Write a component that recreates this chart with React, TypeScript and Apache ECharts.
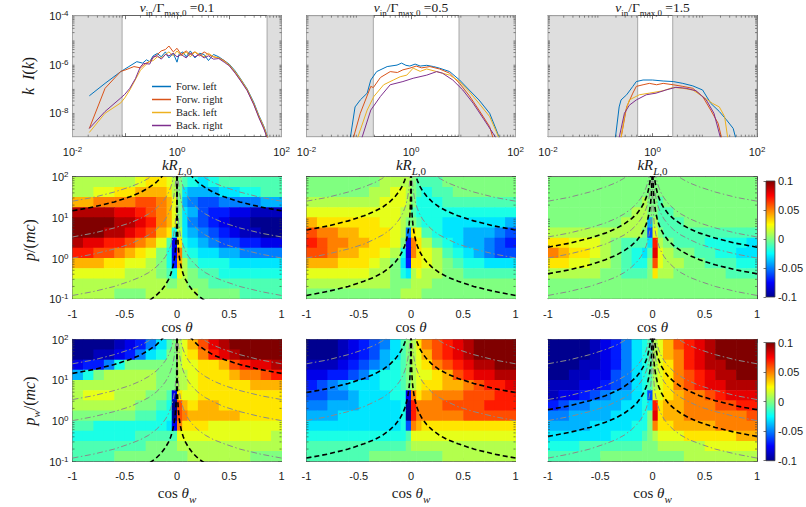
import { useEffect, useRef } from 'react';
import * as echarts from 'echarts';

const NAMES = ['Forw. left', 'Forw. right', 'Back. left', 'Back. right'];
const COLORS = ['#0072BD', '#D95319', '#EDB120', '#7E2F8E'];
const NU = ['0.1', '0.5', '1.5'];

// ---- top row: k I(k) spectra, [k R_L0, k I(k)] ----
const spec01FL = [[0.021,4.9e-8],[0.042,1.6e-7],[0.084,4.9e-7],[0.12,7.9e-7],[0.17,1.26e-6],[0.22,1.1e-6],[0.26,1.5e-6],[0.3,1.26e-6],[0.35,2.2e-6],[0.42,2.75e-6],[0.5,2.0e-6],[0.6,3.2e-6],[0.7,1.8e-6],[0.85,2.8e-6],[1.0,1.2e-6],[1.1,2.6e-6],[1.3,3.2e-6],[1.5,2.0e-6],[1.8,3.5e-6],[2.2,1.8e-6],[2.7,2.8e-6],[3.3,2.5e-6],[4,1.4e-6],[5,2.5e-6],[6.3,2.0e-6],[8,1.4e-6],[10,1.0e-6],[13,5.2e-7],[16.6,2.4e-7],[22,9.5e-8],[29.5,2.6e-8],[37,7.5e-9],[46,2.7e-9],[56,8e-10]];
const spec01FR = [[0.021,2.2e-9],[0.042,1e-7],[0.084,5e-7],[0.1,5.6e-7],[0.15,7.9e-7],[0.2,7e-7],[0.25,1.07e-6],[0.3,1.26e-6],[0.35,1.8e-6],[0.42,2.5e-6],[0.5,3.5e-6],[0.6,4e-6],[0.7,5.6e-6],[0.85,3.2e-6],[1.0,4.5e-6],[1.2,2.5e-6],[1.5,3.5e-6],[1.8,2.5e-6],[2.2,3.2e-6],[2.7,2.2e-6],[3.3,3.2e-6],[4,2.5e-6],[5,2e-6],[6.3,1.8e-6],[8,1.4e-6],[10,9e-7],[13,4.5e-7],[16.6,2.1e-7],[22,8.5e-8],[29.5,2.2e-8],[37,6.5e-9],[46,2.3e-9],[56,7e-10]];
const spec01BL = [[0.021,1.5e-9],[0.042,9.3e-9],[0.084,2.5e-8],[0.1,4e-8],[0.125,8.5e-8],[0.2,5.6e-7],[0.29,1.26e-6],[0.35,1.4e-6],[0.42,2e-6],[0.5,1.8e-6],[0.6,2.5e-6],[0.7,3.2e-6],[0.85,2.2e-6],[1.0,3.5e-6],[1.2,2.2e-6],[1.5,3.2e-6],[1.8,2e-6],[2.2,3.2e-6],[2.7,2.5e-6],[3.3,2e-6],[4,2.8e-6],[5,2e-6],[6.3,1.8e-6],[8,1.3e-6],[10,9.5e-7],[13,4.8e-7],[16.6,2.3e-7],[22,9e-8],[29.5,2.4e-8],[37,7e-9],[46,2.5e-9],[56,7.5e-10]];
const spec01BR = [[0.021,2.2e-9],[0.042,1.1e-8],[0.084,4e-8],[0.1,5.6e-8],[0.125,1e-7],[0.16,2.5e-7],[0.2,7.9e-7],[0.23,1.07e-6],[0.3,1e-6],[0.35,2e-6],[0.42,2.2e-6],[0.5,1.6e-6],[0.6,2.5e-6],[0.7,2.2e-6],[0.85,2.8e-6],[1.0,2e-6],[1.2,2.5e-6],[1.5,1.8e-6],[1.8,2.8e-6],[2.2,2e-6],[2.7,2.5e-6],[3.3,1.8e-6],[4,2.2e-6],[5,1.6e-6],[6.3,1.7e-6],[8,1.2e-6],[10,8.5e-7],[13,4.2e-7],[16.6,2e-7],[22,8e-8],[29.5,2.1e-8],[37,6e-9],[46,2.1e-9],[56,6.5e-10]];

const spec05FL = [[0.069,9e-10],[0.085,1.7e-8],[0.107,3.3e-8],[0.145,6.3e-8],[0.17,2.2e-7],[0.22,4.9e-7],[0.35,7.9e-7],[0.54,9.1e-7],[0.66,1.1e-6],[0.8,8.9e-7],[0.95,8.3e-7],[1.2,1e-6],[1.5,8.3e-7],[2,8.9e-7],[2.7,7.9e-7],[3.5,6.8e-7],[5.5,4.9e-7],[8.5,2.2e-7],[13,8.5e-8],[20,3.3e-8],[32,9.3e-9],[43,1.9e-9],[50,8e-10]];
const spec05FR = [[0.079,9e-10],[0.107,9.3e-9],[0.17,1.2e-7],[0.19,1.07e-7],[0.26,2.8e-7],[0.4,4.9e-7],[0.55,4.5e-7],[0.7,5.8e-7],[0.95,6.8e-7],[1.26,8.3e-7],[1.6,7e-7],[2.3,7.9e-7],[3.5,6.3e-7],[5.5,4.2e-7],[8.5,1.6e-7],[13,5e-8],[20,1.26e-8],[32,2.6e-9],[37,9e-10]];
const spec05BL = [[0.095,9e-10],[0.145,1.26e-8],[0.195,4.6e-8],[0.3,1.4e-7],[0.46,2.2e-7],[0.62,3e-7],[0.83,3.5e-7],[1.1,6.8e-7],[1.5,5e-7],[2.0,6.3e-7],[3.1,4.9e-7],[5.5,3.5e-7],[8.5,1.9e-7],[13,7.2e-8],[20,2.4e-8],[32,6.8e-9],[43,1.6e-9],[48,9e-10]];
const spec05BR = [[0.115,9e-10],[0.17,1.26e-8],[0.26,4.6e-8],[0.4,1.4e-7],[0.7,1.9e-7],[1.1,2.6e-7],[2.0,3.5e-7],[3.1,4.9e-7],[4.0,4.2e-7],[6.3,2.2e-7],[9.8,8.5e-8],[15.5,2.4e-8],[24,5.8e-9],[37,1.4e-9],[42,9e-10]];

const spec15FL = [[0.195,9e-10],[0.23,1.7e-8],[0.25,3.3e-8],[0.32,5.4e-8],[0.42,1.2e-7],[0.49,1.9e-7],[0.66,2.2e-7],[1.0,2.2e-7],[1.6,2e-7],[2.5,1.9e-7],[3.8,1.6e-7],[5.9,1.26e-7],[9.1,8.5e-8],[13,2.4e-8],[19,1.1e-8],[26,5e-9],[35,2.2e-9],[39,9e-10]];
const spec15FR = [[0.25,9e-10],[0.32,1.7e-8],[0.42,6.3e-8],[0.49,1.2e-7],[0.66,1.4e-7],[0.87,1.6e-7],[1.2,1.4e-7],[1.6,1.6e-7],[2.5,1.4e-7],[3.8,1.2e-7],[5.9,1e-7],[9.1,4.6e-8],[13,1.26e-8],[18,3.6e-9],[21,9e-10]];
const spec15BL = [[0.25,9e-10],[0.3,1e-8],[0.36,3.3e-8],[0.56,5.4e-8],[0.87,6.3e-8],[1.6,7.9e-8],[2.5,1.1e-7],[3.8,1e-7],[5.9,8.5e-8],[9.1,4.6e-8],[14,2.4e-8],[19,1.7e-8],[24,6.8e-9],[27.5,9e-10]];
const spec15BR = [[0.23,9e-10],[0.29,9.3e-9],[0.36,2e-8],[0.49,3.3e-8],[0.76,5.4e-8],[1.17,6.3e-8],[1.8,8.5e-8],[2.8,1.1e-7],[4.4,1e-7],[6.8,7.9e-8],[10.7,3.3e-8],[15,9.3e-9],[20,9e-10]];

// grey (excluded) k ranges per column
const shadeLow = [0.089, 0.19, 0.52];
const shadeHigh = [53, 8.3, 2.44];

// ---- heat maps: cell edges and values (units of 0.01) ----
const muEdges = [-1,-0.9,-0.8,-0.7,-0.6,-0.5,-0.4,-0.3,-0.2,-0.1,-0.05,0,0.05,0.1,0.2,0.3,0.4,0.5,0.6,0.7,0.8,0.9,1];
const pEdges = [100,56.2,31.6,17.8,10,5.62,3.16,1.78,1,0.562,0.316,0.178,0.1];

const heatMid01 = [
  [1,1,1,1,1,1,2,3,3,2,1,0,-1,-2,-3,-2,-1,-1,-1,-1,-1,-1],
  [1,1,2,2,3,3,4,4,4,3,1,0,-3,-4,-4,-4,-3,-3,-2,-2,-1,-1],
  [4,4,5,5,5,5,6,6,5,4,2,0,-4,-5,-6,-6,-5,-5,-5,-5,-4,-4],
  [9,9,9,9,8,8,7,6,5,4,2,0,-3,-4,-6,-7,-7,-8,-8,-9,-9,-9],
  [10,10,10,10,9,9,8,7,5,4,2,0,-3,-5,-6,-7,-8,-9,-9,-10,-10,-10],
  [10,10,10,9,9,8,7,6,4,3,-2,1,-3,-4,-5,-6,-7,-8,-9,-9,-10,-10],
  [9,8,8,7,7,6,5,4,2,-1,-8,3,-2,-3,-4,-5,-6,-6,-7,-7,-8,-8],
  [7,7,6,6,5,4,3,2,0,-2,-8,5,-1,-2,-3,-3,-4,-4,-5,-5,-5,-5],
  [4,4,4,3,3,2,2,1,0,-2,-7,4,1,-1,-2,-2,-2,-3,-3,-3,-3,-3],
  [2,2,2,2,2,1,1,1,0,-1,-2,2,1,0,-1,-1,-2,-2,-2,-2,-2,-2],
  [1,1,1,1,1,1,1,1,1,0,0,1,1,0,0,-1,-1,-1,-1,-1,-1,-1],
  [1,1,1,1,0,0,0,1,1,1,1,1,1,1,0,0,0,0,-1,-1,-1,-1],
];
const heatMid05 = [
  [0,0,0,0,0,0,0,1,1,1,1,0,-1,-1,-1,0,0,0,0,0,0,0],
  [0,0,0,0,0,0,1,1,2,2,1,0,-1,-2,-1,-1,0,0,0,0,0,0],
  [1,1,1,1,1,1,1,2,2,2,1,0,-2,-2,-2,-1,-1,-1,-1,-1,-1,-1],
  [2,2,2,2,2,2,2,2,2,1,1,-1,-2,-2,-2,-2,-2,-2,-2,-2,-2,-2],
  [4,3,3,3,3,3,3,2,2,1,0,0,-1,-2,-2,-3,-3,-3,-3,-3,-3,-4],
  [6,5,5,4,4,3,3,3,2,1,-5,3,2,-1,-2,-3,-3,-4,-4,-4,-5,-6],
  [7,6,5,5,4,4,3,3,2,0,-8,5,3,1,-1,-2,-3,-4,-4,-5,-6,-7],
  [6,6,5,4,4,3,3,2,1,-2,-8,5,3,2,1,-1,-2,-3,-4,-5,-6,-6],
  [4,4,4,3,3,3,2,1,0,-3,-7,3,3,2,1,0,-1,-2,-2,-3,-3,-3],
  [2,2,2,2,2,2,1,1,0,-2,-3,1,2,1,1,0,0,-1,-1,-1,-1,-1],
  [1,1,1,1,1,1,1,1,0,0,0,1,1,1,0,0,0,0,0,0,0,0],
  [0,0,0,0,0,0,0,0,0,1,1,1,1,0,0,0,0,0,0,0,0,0],
];
const heatMid15 = [
  [0,0,0,0,0,0,0,0,0,0,0,0,0,0,0,0,0,0,0,0,0,0],
  [0,0,0,0,0,0,0,0,0,0,0,0,0,0,0,0,0,0,0,0,0,0],
  [0,0,0,0,0,0,0,0,0,1,0,0,-1,0,0,0,0,0,0,0,0,0],
  [0,0,0,0,0,0,0,0,1,1,0,0,-1,-1,0,0,0,0,0,0,0,0],
  [0,0,0,0,0,0,0,1,1,1,-4,1,-1,-1,-1,0,0,0,0,0,0,0],
  [1,1,1,1,1,1,1,1,1,0,-6,2,0,-1,-1,-1,-1,-1,-1,-1,-1,-1],
  [3,3,2,2,2,1,0,-1,-1,-1,-3,7,1,0,-1,-1,-1,-2,-2,-2,-2,-3],
  [5,4,3,3,2,1,0,-1,-2,-3,-1,8,2,1,0,0,-1,-1,-2,-2,-3,-3],
  [3,3,2,2,1,1,0,-1,-2,-2,0,6,2,1,1,0,0,-1,-1,-1,-2,-2],
  [1,1,1,1,1,0,0,-1,-1,-1,0,3,1,1,0,0,0,0,0,-1,-1,-1],
  [0,0,0,0,0,0,0,0,0,0,0,0,0,0,0,0,0,0,0,0,0,0],
  [0,0,0,0,0,0,0,0,0,0,0,0,0,0,0,0,0,0,0,0,0,0],
];
const heatBot01 = [
  [-10,-10,-10,-10,-9,-8,-7,-5,-3,-1,0,1,2,4,6,8,9,10,10,10,10,10],
  [-10,-10,-9,-9,-8,-7,-5,-3,-2,0,0,1,2,3,5,7,8,9,10,10,10,10],
  [-8,-7,-7,-5,-2,0,0,0,0,0,0,1,2,2,3,3,4,6,7,8,8,9],
  [-4,-2,0,1,1,1,1,1,0,0,0,1,1,2,3,3,3,4,5,5,6,7],
  [1,1,1,1,1,1,1,1,0,0,0,1,1,2,3,3,3,3,3,4,4,4],
  [1,2,2,2,1,1,1,0,0,-1,-8,3,2,2,3,3,3,3,3,3,3,3],
  [1,1,1,1,1,1,0,0,-1,-2,-10,6,4,3,4,4,3,3,3,3,3,3],
  [0,0,0,0,0,0,-1,-1,-2,-2,-10,6,5,4,4,4,4,4,3,3,3,3],
  [-1,-1,-2,-2,-2,-2,-2,-2,-2,-3,-8,5,3,3,3,2,2,2,2,2,2,2],
  [-2,-2,-2,-2,-2,-2,-1,-1,-1,-1,-1,2,2,2,2,2,2,2,2,2,2,1],
  [-1,-1,-1,-1,-1,-1,-1,0,0,0,0,1,1,1,1,1,1,1,1,1,1,1],
  [-1,-1,-1,-1,0,0,0,0,0,0,0,0,0,1,1,1,1,1,1,0,0,0],
];
const heatBot05 = [
  [-10,-10,-10,-9,-8,-7,-6,-5,-3,-1,0,1,3,5,6,7,8,9,10,10,10,10],
  [-10,-10,-10,-9,-8,-7,-6,-4,-3,-1,0,1,2,4,6,7,8,9,10,10,10,10],
  [-9,-9,-9,-8,-7,-6,-5,-4,-2,-1,0,1,2,3,5,6,7,8,9,9,10,10],
  [-8,-8,-7,-7,-6,-5,-3,-2,-2,-1,0,1,2,2,3,4,6,7,8,8,9,9],
  [-7,-6,-5,-4,-3,-3,-3,-2,-2,-1,0,1,2,3,3,4,4,5,6,7,7,8],
  [-6,-6,-5,-5,-4,-3,-3,-3,-2,-2,-8,5,3,4,5,5,5,6,6,6,7,7],
  [-5,-5,-4,-4,-4,-3,-3,-3,-3,-2,-10,7,5,5,5,6,6,6,6,7,7,7],
  [-4,-4,-4,-3,-3,-3,-3,-3,-3,-2,-10,7,5,5,5,5,5,6,6,6,6,6],
  [-3,-3,-3,-3,-3,-3,-3,-3,-3,-2,-6,5,4,3,3,3,3,3,3,3,3,3],
  [-2,-2,-2,-2,-2,-2,-2,-2,-2,-2,-1,2,2,2,2,2,2,2,2,2,2,2],
  [-1,-1,-1,-1,-1,-1,-1,-1,-1,-1,0,1,1,1,1,1,1,1,1,1,1,1],
  [-1,-1,-1,-1,-1,-1,0,0,0,0,0,0,0,0,0,1,1,1,1,1,1,1],
];
const heatBot15 = [
  [-10,-10,-10,-10,-9,-8,-7,-5,-3,-2,-1,1,2,4,6,7,8,9,10,10,10,10],
  [-10,-10,-10,-10,-9,-8,-7,-5,-3,-2,-1,1,2,4,5,7,8,9,10,10,10,10],
  [-10,-10,-10,-9,-9,-8,-7,-5,-3,-2,-1,1,2,3,5,7,8,9,9,10,10,10],
  [-10,-10,-9,-9,-8,-8,-6,-5,-3,-2,-1,1,2,3,5,6,7,8,9,9,10,10],
  [-9,-9,-9,-8,-8,-7,-6,-5,-3,-2,-1,1,2,3,5,6,7,8,8,9,9,9],
  [-9,-8,-8,-7,-6,-5,-4,-4,-3,-2,-6,2,2,3,4,5,5,6,7,8,8,8],
  [-7,-6,-5,-5,-4,-4,-4,-3,-3,-2,-3,7,3,4,4,5,5,5,6,6,7,7],
  [-5,-5,-4,-4,-4,-4,-3,-3,-3,-2,0,8,3,4,4,5,5,5,5,5,5,6],
  [-4,-4,-4,-4,-3,-3,-3,-3,-2,-2,0,5,3,3,4,4,4,4,5,5,5,5],
  [-3,-3,-3,-3,-3,-3,-2,-2,-2,-1,0,1,2,2,2,3,3,3,3,3,4,4],
  [-2,-2,-2,-1,-1,-1,-1,-1,-1,0,0,0,1,1,1,1,1,2,2,2,2,2],
  [-1,-1,-1,-1,-1,0,0,0,0,0,0,0,0,0,0,1,1,1,1,1,1,1],
];

// ---- resonance curves (cos θ < 0 branch; mirrored for cos θ > 0) ----
const curveP25 = [[-1,25],[-0.8,31],[-0.6,42],[-0.45,56],[-0.35,71],[-0.28,89],[-0.22,114]];
const curveP14 = [[-1,14.5],[-0.8,18],[-0.6,24],[-0.45,32],[-0.35,41],[-0.27,54],[-0.2,72],[-0.16,91],[-0.13,112]];
const curveP4_9 = [[-1,4.9],[-0.8,6.1],[-0.6,8.2],[-0.45,10.9],[-0.35,14],[-0.27,18],[-0.2,24.5],[-0.15,33],[-0.11,45],[-0.08,61],[-0.06,82],[-0.045,109]];
const curveP3_3 = [[-1,3.3],[-0.8,4.1],[-0.6,5.5],[-0.45,7.3],[-0.35,9.4],[-0.27,12.2],[-0.2,16.5],[-0.15,22],[-0.11,30],[-0.08,41],[-0.06,55],[-0.045,73],[-0.032,103]];
const curveP1_85 = [[-1,1.85],[-0.8,2.3],[-0.6,3.1],[-0.45,4.1],[-0.35,5.3],[-0.27,6.9],[-0.2,9.3],[-0.15,12.3],[-0.11,16.8],[-0.08,23],[-0.06,31],[-0.045,41],[-0.032,58],[-0.022,84],[-0.016,116]];
const curveP1 = [[-1,1],[-0.8,1.25],[-0.6,1.67],[-0.45,2.2],[-0.35,2.9],[-0.27,3.7],[-0.2,5],[-0.15,6.7],[-0.11,9.1],[-0.08,12.5],[-0.06,16.7],[-0.045,22],[-0.032,31],[-0.022,45],[-0.016,62],[-0.011,91],[-0.008,125]];
const curveP0_41 = [[-1,0.41],[-0.8,0.51],[-0.6,0.68],[-0.45,0.91],[-0.35,1.17],[-0.27,1.52],[-0.2,2.05],[-0.15,2.7],[-0.11,3.7],[-0.08,5.1],[-0.06,6.8],[-0.045,9.1],[-0.032,12.8],[-0.022,18.6],[-0.016,26],[-0.011,37],[-0.008,51],[-0.0055,75],[-0.0038,108]];
const curveP0_12 = [[-1,0.12],[-0.8,0.15],[-0.6,0.2],[-0.45,0.27],[-0.35,0.34],[-0.27,0.44],[-0.2,0.6],[-0.15,0.8],[-0.11,1.09],[-0.08,1.5],[-0.06,2],[-0.045,2.7],[-0.032,3.75],[-0.022,5.5],[-0.016,7.5],[-0.011,10.9],[-0.008,15],[-0.0055,22],[-0.0038,32],[-0.0026,46],[-0.0018,67],[-0.0011,109]];
const curveP0_024 = [[-0.26,0.092],[-0.2,0.12],[-0.15,0.16],[-0.11,0.22],[-0.08,0.3],[-0.06,0.4],[-0.045,0.53],[-0.032,0.75],[-0.022,1.09],[-0.016,1.5],[-0.011,2.2],[-0.008,3],[-0.0055,4.4],[-0.0038,6.3],[-0.0026,9.2],[-0.0018,13.3],[-0.0012,20],[-0.0008,30],[-0.0005,48],[-0.0003,80],[-0.0002,120]];

const SPECTRA = [
  [spec01FL, spec01FR, spec01BL, spec01BR],
  [spec05FL, spec05FR, spec05BL, spec05BR],
  [spec15FL, spec15FR, spec15BL, spec15BR],
];
const HEAT_MID = [heatMid01, heatMid05, heatMid15];
const HEAT_BOT = [heatBot01, heatBot05, heatBot15];
const GREY_CURVES = [
  [curveP25, curveP3_3, curveP1, curveP0_12],
  [curveP25, curveP1],
  [curveP25, curveP3_3, curveP1, curveP0_12],
];
const BLACK_CURVES = [
  [curveP14, curveP0_024],
  [curveP4_9, curveP0_12],
  [curveP1_85, curveP0_41],
];

// ---- styling ----
const SANS = "'Liberation Sans', Arial, Helvetica, sans-serif";
const SERIF = "'Liberation Serif', 'Times New Roman', serif";
const TXT = '#1a1a1a';
const AX = '#3a3a3a';
const JET = ['#00008F', '#0000FF', '#0080FF', '#00FFFF', '#80FF80', '#FFFF00', '#FF8000', '#FF0000', '#800000'];

const COL_LEFT = [72.5, 306.5, 548];
const COL_W = 209;
const ROW_TOP = [15.7, 176.7, 339.3];
const ROW_H = [121, 122, 122];

const tick = { show: true, inside: true, length: 3.5, lineStyle: { color: AX, width: 0.7 } };
const axisLine = { show: true, onZero: false, lineStyle: { color: AX, width: 0.8 } };
const expRich = {
  b: { fontFamily: SANS, fontSize: 11, color: TXT, lineHeight: 12, verticalAlign: 'bottom' },
  e: { fontFamily: SANS, fontSize: 8, color: TXT, lineHeight: 7, verticalAlign: 'top' },
};

// minor tick positions of a log axis: 2..9 times each decade
const MINOR_MULT = [2, 3, 4, 5, 6, 7, 8, 9];
function minorValues(e0: number, e1: number) {
  const out: number[] = [];
  for (let e = e0; e < e1; e++) MINOR_MULT.forEach((m) => out.push(m * Math.pow(10, e)));
  return out;
}

function logAxis(min: number, max: number, keep: ((e: number) => boolean) | null, margin: number) {
  return {
    type: 'log', logBase: 10, min, max,
    axisLine, axisTick: tick,
    splitLine: { show: false },
    axisLabel: keep
      ? {
          show: true, margin, rich: expRich,
          formatter: (v: number) => {
            const e = Math.round(Math.log10(v));
            return keep(e) ? `{b|10}{e|${e}}` : '';
          },
        }
      : { show: false },
  };
}
function linAxis(show: boolean) {
  return {
    type: 'value', min: -1, max: 1, interval: 0.5,
    axisLine, axisTick: tick, splitLine: { show: false },
    axisLabel: show ? { show: true, margin: 9.5, fontFamily: SANS, fontSize: 11, lineHeight: 11, color: TXT } : { show: false },
  };
}

// LaTeX-like label: main tokens top-aligned, subscripts bottom-aligned in a taller line
function mathRich(size: number, hasSub: boolean) {
  const sub = Math.round(size * 0.7);
  const lh = hasSub ? Math.round(size * 1.26) : size;
  return {
    n: { fontFamily: SERIF, fontSize: size, fill: TXT, color: TXT, lineHeight: lh, verticalAlign: 'top' },
    i: { fontFamily: SERIF, fontSize: size, fontStyle: 'italic', fill: TXT, color: TXT, lineHeight: lh, verticalAlign: 'top' },
    s: { fontFamily: SERIF, fontSize: sub, fill: TXT, color: TXT, lineHeight: sub, verticalAlign: 'bottom' },
    si: { fontFamily: SERIF, fontSize: sub, fontStyle: 'italic', fill: TXT, color: TXT, lineHeight: sub, verticalAlign: 'bottom' },
  };
}
// (cx, cy): centre of the main glyphs
function mathText(cx: number, cy: number, text: string, size: number, rotate = false) {
  const hasSub = text.indexOf('{s') >= 0;
  const off = 0.58 * size;
  return {
    type: 'text',
    x: rotate ? cx - off : cx,
    y: rotate ? cy : cy - off,
    rotation: rotate ? Math.PI / 2 : 0, silent: true, z: 100,
    style: {
      text, rich: mathRich(size, hasSub),
      align: 'center', verticalAlign: 'top', textAlign: 'center', textVerticalAlign: 'top', fill: TXT,
    },
  };
}

const minorTickLine = (x1: number, y1: number, x2: number, y2: number) => ({
  type: 'line', shape: { x1, y1, x2, y2 }, style: { stroke: AX, lineWidth: 0.6 }, silent: true,
});

function buildOption() {
  const grid: any[] = [];
  const xAxis: any[] = [];
  const yAxis: any[] = [];
  const series: any[] = [];
  const heatIdx: number[] = [];

  const addPanel = (left: number, top: number, width: number, height: number, xMain: any, xMirror: any, yMain: any, yMirror: any) => {
    const g = grid.length;
    grid.push({ left, top, width, height });
    const xi = xAxis.length;
    const yi = yAxis.length;
    xAxis.push({ gridIndex: g, position: 'bottom', ...xMain });
    xAxis.push({ gridIndex: g, position: 'top', ...xMirror });
    yAxis.push({ gridIndex: g, position: 'left', ...yMain });
    yAxis.push({ gridIndex: g, position: 'right', ...yMirror });
    return { xi, yi };
  };

  // minor ticks on both sides of a log axis, positioned through the axis scale
  const addMinorX = (xi: number, yi: number, vals: number[], yRef: number) => {
    series.push({
      type: 'custom', coordinateSystem: 'cartesian2d', xAxisIndex: xi, yAxisIndex: yi, silent: true, z: 6,
      data: vals.map((v) => [v, yRef]),
      renderItem: (params: any, api: any) => {
        const cs = params.coordSys;
        const p = api.coord([api.value(0), api.value(1)]);
        return {
          type: 'group',
          children: [
            minorTickLine(p[0], cs.y + cs.height, p[0], cs.y + cs.height - 2),
            minorTickLine(p[0], cs.y, p[0], cs.y + 2),
          ],
        };
      },
    });
  };
  const addMinorY = (xi: number, yi: number, vals: number[], xRef: number) => {
    series.push({
      type: 'custom', coordinateSystem: 'cartesian2d', xAxisIndex: xi, yAxisIndex: yi, silent: true, z: 6,
      data: vals.map((v) => [xRef, v]),
      renderItem: (params: any, api: any) => {
        const cs = params.coordSys;
        const p = api.coord([api.value(0), api.value(1)]);
        return {
          type: 'group',
          children: [
            minorTickLine(cs.x, p[1], cs.x + 2, p[1]),
            minorTickLine(cs.x + cs.width, p[1], cs.x + cs.width - 2, p[1]),
          ],
        };
      },
    });
  };

  for (let c = 0; c < 3; c++) {
    // top row: spectra
    const t = addPanel(
      COL_LEFT[c], ROW_TOP[0], COL_W, ROW_H[0],
      logAxis(0.01, 100, (e) => e % 2 === 0, 8.5), logAxis(0.01, 100, null, 0),
      logAxis(1e-9, 1e-4, c === 0 ? (e) => e % 2 === 0 : null, 4), logAxis(1e-9, 1e-4, null, 0),
    );
    SPECTRA[c].forEach((data, i) => {
      series.push({
        type: 'line', name: NAMES[i], xAxisIndex: t.xi, yAxisIndex: t.yi, data,
        showSymbol: false, symbol: 'none', clip: true, silent: true, z: 3,
        lineStyle: { color: COLORS[i], width: 1 }, itemStyle: { color: COLORS[i] },
        markArea: i === 0 ? {
          silent: true,
          itemStyle: { color: '#dedede', borderColor: '#a8a8a8', borderWidth: 1 },
          data: [
            [{ xAxis: 0.01 }, { xAxis: shadeLow[c] }],
            [{ xAxis: shadeHigh[c] }, { xAxis: 100 }],
          ],
        } : undefined,
      });
    });
    addMinorX(t.xi, t.yi, minorValues(-2, 2), 1e-6);
    addMinorY(t.xi, t.yi, minorValues(-9, -4), 1);

    // middle and bottom rows: maps
    [HEAT_MID[c], HEAT_BOT[c]].forEach((vals, r) => {
      const h = addPanel(
        COL_LEFT[c], ROW_TOP[r + 1], COL_W, ROW_H[r + 1],
        linAxis(true), linAxis(false),
        logAxis(0.1, 100, c === 0 ? () => true : null, 4), logAxis(0.1, 100, null, 0),
      );
      const cells: number[][] = [];
      vals.forEach((row, ri) => row.forEach((v, ci) => {
        cells.push([muEdges[ci], muEdges[ci + 1], pEdges[ri + 1], pEdges[ri], v / 100]);
      }));
      heatIdx.push(series.length);
      series.push({
        type: 'custom', coordinateSystem: 'cartesian2d', xAxisIndex: h.xi, yAxisIndex: h.yi,
        data: cells, dimensions: ['x0', 'x1', 'y0', 'y1', 'v'], encode: { x: [0, 1], y: [2, 3] },
        clip: true, silent: true, z: 1,
        renderItem: (_p: any, api: any) => {
          const a = api.coord([api.value(0), api.value(3)]);
          const b = api.coord([api.value(1), api.value(2)]);
          return {
            type: 'rect',
            shape: { x: a[0], y: a[1], width: b[0] - a[0] + 0.6, height: b[1] - a[1] + 0.6 },
            style: { fill: api.visual('color'), stroke: null },
          };
        },
      });
      const addCurve = (pts: number[][], lineStyle: any) => {
        [pts, pts.map(([x, y]) => [-x, y])].forEach((d) => series.push({
          type: 'line', xAxisIndex: h.xi, yAxisIndex: h.yi, data: d,
          showSymbol: false, symbol: 'none', clip: true, silent: true, z: 4, lineStyle,
        }));
      };
      GREY_CURVES[c].forEach((pts) => addCurve(pts, { color: '#8a8a8a', width: 1, type: [6, 2.5, 1.5, 2.5] }));
      BLACK_CURVES[c].forEach((pts) => addCurve(pts, { color: '#000', width: 1.6, type: [5, 3] }));
      addMinorY(h.xi, h.yi, minorValues(-1, 2), 0);
    });
  }

  // colour bars
  [[181, 116], [342.7, 118]].forEach(([top, height]) => {
    const g = grid.length;
    grid.push({ left: 766, top, width: 10.5, height });
    const xi = xAxis.length;
    const yi = yAxis.length;
    xAxis.push({ gridIndex: g, type: 'value', min: 0, max: 1, show: false });
    yAxis.push({
      gridIndex: g, type: 'value', position: 'right', min: -0.1, max: 0.1, interval: 0.05,
      axisLine: { show: false }, splitLine: { show: false },
      axisTick: { show: true, inside: true, length: 2.5, lineStyle: { color: AX, width: 0.7 } },
      axisLabel: { show: true, margin: 3, fontFamily: SANS, fontSize: 11, color: TXT },
    });
    series.push({
      type: 'custom', coordinateSystem: 'cartesian2d', xAxisIndex: xi, yAxisIndex: yi,
      data: [[0, 1, -0.1, 0.1]], silent: true, z: 1,
      renderItem: (_p: any, api: any) => {
        const a = api.coord([api.value(0), api.value(3)]);
        const b = api.coord([api.value(1), api.value(2)]);
        return {
          type: 'rect',
          shape: { x: a[0], y: a[1], width: b[0] - a[0], height: b[1] - a[1] },
          style: {
            fill: {
              type: 'linear', x: 0, y: 1, x2: 0, y2: 0,
              colorStops: JET.map((col, i) => ({ offset: i / (JET.length - 1), color: col })),
            },
            stroke: AX, lineWidth: 0.8,
          },
        };
      },
    });
  });

  const centers = COL_LEFT.map((l) => l + COL_W / 2);
  const graphic: any[] = [];
  centers.forEach((cx, c) => {
    graphic.push(mathText(cx, 8, `{i|ν}{s|in}{n|/Γ}{s|max,0}{n| =${NU[c]}}`, 13.5));
    graphic.push(mathText(cx, 166.5, '{i|kR}{si|L}{s|,0}', 15));
    graphic.push(mathText(cx, 328.3, '{n|cos }{i|θ}', 15));
    graphic.push(mathText(cx, 494, '{n|cos }{i|θ}{si|w}', 15));
  });
  graphic.push(mathText(30, 76, '{i|k}{n|  }{i|I}{n|(}{i|k}{n|)}', 16, true));
  graphic.push(mathText(31, 240, '{i|p}{n|/(}{i|mc}{n|)}', 16, true));
  graphic.push(mathText(31, 401, '{i|p}{si|w}{n|/(}{i|mc}{n|)}', 16, true));

  return {
    animation: false,
    backgroundColor: '#fff',
    grid, xAxis, yAxis, series, graphic,
    legend: {
      data: NAMES, orient: 'vertical', left: 152, top: 81, padding: 0,
      icon: 'rect', itemWidth: 19, itemHeight: 1.5, itemGap: 2, selectedMode: false,
      textStyle: { fontFamily: SERIF, fontSize: 10.5, color: TXT, lineHeight: 11 },
    },
    visualMap: {
      type: 'continuous', show: false, min: -0.1, max: 0.1, dimension: 4,
      seriesIndex: heatIdx, inRange: { color: JET },
    },
  };
}

export default function App() {
  const ref = useRef<HTMLDivElement>(null);
  useEffect(() => {
    const chart = echarts.init(ref.current as HTMLDivElement, null, { renderer: 'svg' });
    chart.setOption(buildOption() as any);
    return () => chart.dispose();
  }, []);
  return (
    <div
      ref={ref}
      style={{ position: 'absolute', left: 0, top: 0, width: 806, height: 507, background: '#fff' }}
    />
  );
}
